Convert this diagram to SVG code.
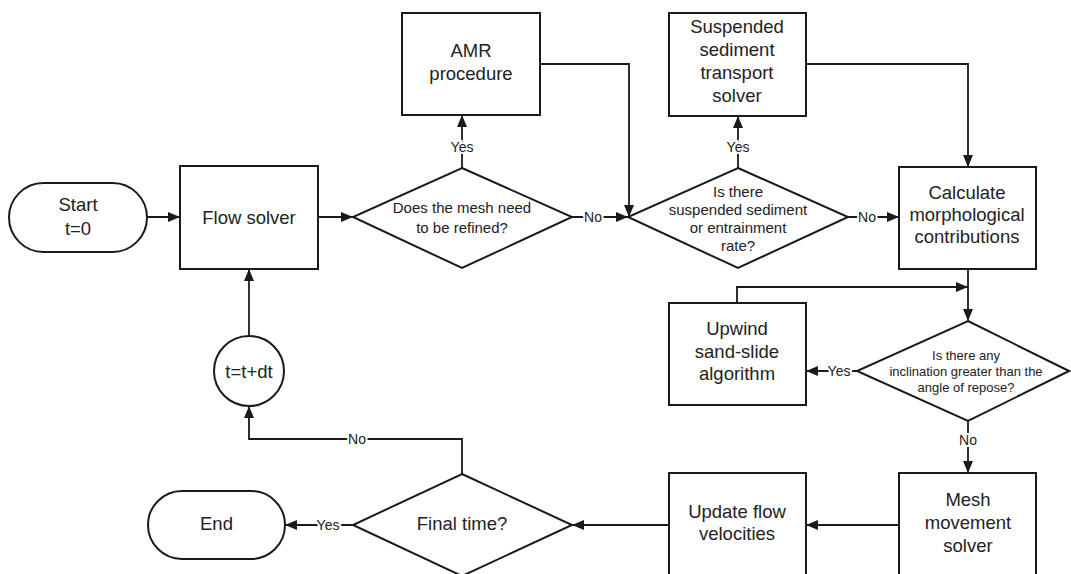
<svg xmlns="http://www.w3.org/2000/svg" width="1071" height="574" viewBox="0 0 1071 574">
  <style>
    .shape { fill: #ffffff; stroke: #1a1a1a; stroke-width: 2; }
    .wire { fill: none; stroke: #1a1a1a; stroke-width: 1.8; }
    .t { font-family: "Liberation Sans", Arial, sans-serif; font-size: 18.5px; fill: #222222; text-anchor: middle; }
    .q1 { font-size: 15px; }
    .q3 { font-size: 13px; }
    .lbl { font-family: "Liberation Sans", Arial, sans-serif; font-size: 14px; fill: #222222; text-anchor: middle;
           stroke: #ffffff; stroke-width: 4; paint-order: stroke; }
  </style>
  <defs>
    <marker id="arrow" viewBox="0 0 12 10" refX="12" refY="5" markerWidth="12" markerHeight="10"
            markerUnits="userSpaceOnUse" orient="auto">
      <path d="M0,0 L12,5 L0,10 Z" fill="#1a1a1a"/>
    </marker>
  </defs>

  <rect width="1071" height="574" fill="#ffffff"/>

  <!-- connectors -->
  <g id="connectors">
    <path class="wire" d="M147,217 H180" marker-end="url(#arrow)"/>
    <path class="wire" d="M318,217 H353" marker-end="url(#arrow)"/>
    <path class="wire" d="M462,168 V115" marker-end="url(#arrow)"/>
    <path class="wire" d="M572,217 H628" marker-end="url(#arrow)"/>
    <path class="wire" d="M540,64 H629 V217" marker-end="url(#arrow)"/>
    <path class="wire" d="M738,168 V116" marker-end="url(#arrow)"/>
    <path class="wire" d="M848,217 H899" marker-end="url(#arrow)"/>
    <path class="wire" d="M806,64 H968 V167" marker-end="url(#arrow)"/>
    <path class="wire" d="M968,269 V321" marker-end="url(#arrow)"/>
    <path class="wire" d="M737,303 V287 H968" marker-end="url(#arrow)"/>
    <path class="wire" d="M857,371 H806" marker-end="url(#arrow)"/>
    <path class="wire" d="M968,421 V473" marker-end="url(#arrow)"/>
    <path class="wire" d="M899,525 H806" marker-end="url(#arrow)"/>
    <path class="wire" d="M669,525 H572" marker-end="url(#arrow)"/>
    <path class="wire" d="M353,525 H285" marker-end="url(#arrow)"/>
    <path class="wire" d="M462,474 V439 H249 V406" marker-end="url(#arrow)"/>
    <path class="wire" d="M249,336 V269" marker-end="url(#arrow)"/>

    <text class="lbl" x="462" y="152">Yes</text>
    <text class="lbl" x="593" y="222">No</text>
    <text class="lbl" x="738" y="152">Yes</text>
    <text class="lbl" x="867" y="222">No</text>
    <text class="lbl" x="839" y="376">Yes</text>
    <text class="lbl" x="968" y="445">No</text>
    <text class="lbl" x="328" y="530">Yes</text>
    <text class="lbl" x="357" y="444">No</text>
  </g>

  <g id="start">
    <rect class="shape" x="9" y="183" width="138" height="69" rx="34.5"/>
    <text class="t" x="78" y="210.5">Start</text>
    <text class="t" x="78" y="234.5">t=0</text>
  </g>

  <g id="flow-solver">
    <rect class="shape" x="180" y="166" width="138" height="103"/>
    <text class="t" x="249" y="223.5">Flow solver</text>
  </g>

  <g id="refine-check">
    <polygon class="shape" points="462,168 572,217 462,268 353,217"/>
    <text class="t q1" x="462" y="212.5">Does the mesh need</text>
    <text class="t q1" x="462" y="232.5">to be refined?</text>
  </g>

  <g id="amr">
    <rect class="shape" x="402" y="13" width="138" height="102"/>
    <text class="t" x="471" y="56.5">AMR</text>
    <text class="t" x="471" y="79.5">procedure</text>
  </g>

  <g id="sediment-check">
    <polygon class="shape" points="738,168 848,217 738,268 628,217"/>
    <text class="t q1" x="738" y="196.5">Is there</text>
    <text class="t q1" x="738" y="214.5">suspended sediment</text>
    <text class="t q1" x="738" y="232.5">or entrainment</text>
    <text class="t q1" x="738" y="251">rate?</text>
  </g>

  <g id="sediment-solver">
    <rect class="shape" x="669" y="13" width="137" height="103"/>
    <text class="t" x="737" y="32.5">Suspended</text>
    <text class="t" x="737" y="55.5">sediment</text>
    <text class="t" x="737" y="78.5">transport</text>
    <text class="t" x="737" y="101.5">solver</text>
  </g>

  <g id="morphology">
    <rect class="shape" x="899" y="167" width="137" height="102"/>
    <text class="t" x="967" y="198.5">Calculate</text>
    <text class="t" x="967" y="220.5">morphological</text>
    <text class="t" x="967" y="242.5">contributions</text>
  </g>

  <g id="repose-check">
    <polygon class="shape" points="968,321 1069,371 968,421 857,371"/>
    <text class="t q3" x="966" y="359.5">Is there any</text>
    <text class="t q3" x="966" y="375.5">inclination greater than the</text>
    <text class="t q3" x="966" y="391.5">angle of repose?</text>
  </g>

  <g id="sand-slide">
    <rect class="shape" x="669" y="303" width="137" height="102"/>
    <text class="t" x="737" y="334.5">Upwind</text>
    <text class="t" x="737" y="357.5">sand-slide</text>
    <text class="t" x="737" y="379.5">algorithm</text>
  </g>

  <g id="mesh-movement">
    <rect class="shape" x="899" y="473" width="137" height="110"/>
    <text class="t" x="968" y="505.5">Mesh</text>
    <text class="t" x="968" y="528.5">movement</text>
    <text class="t" x="968" y="551.5">solver</text>
  </g>

  <g id="update-velocities">
    <rect class="shape" x="669" y="473" width="137" height="110"/>
    <text class="t" x="737" y="517.5">Update flow</text>
    <text class="t" x="737" y="539.5">velocities</text>
  </g>

  <g id="final-time">
    <polygon class="shape" points="462,474 572,525 462,576 353,525"/>
    <text class="t" x="462" y="530">Final time?</text>
  </g>

  <g id="end">
    <rect class="shape" x="148" y="491" width="137" height="68" rx="34"/>
    <text class="t" x="216.5" y="530">End</text>
  </g>

  <g id="time-step">
    <circle class="shape" cx="249" cy="371" r="35"/>
    <text class="t" x="249" y="377.5">t=t+dt</text>
  </g>
</svg>
